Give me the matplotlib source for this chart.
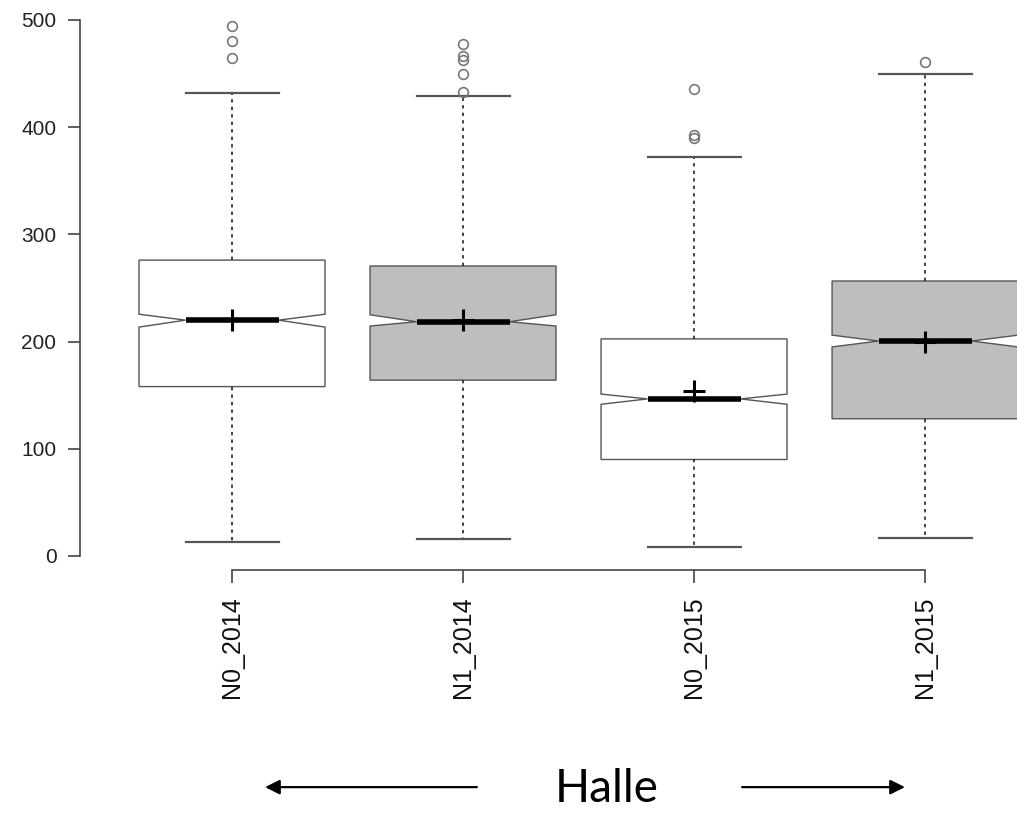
import matplotlib.pyplot as plt

# valeurs
groupes = ['N0_2014', 'N1_2014', 'N0_2015', 'N1_2015']
q1 = [158, 164, 90, 128]
mediane = [220, 218.5, 146.5, 200.5]
q3 = [276, 270.5, 202.5, 256.5]
moustache_bas = [13, 16, 8, 17]
moustache_haut = [432, 429, 372, 450]
encoche_bas = [213.5, 214.5, 141.5, 195]
encoche_haut = [225.5, 225, 151, 206]
moyennes = [220, 220, 154, 200]
aberrants = [[494, 480, 465], [478, 466, 463, 450, 433], [436, 393, 390], [461]]
remplissage = ['white', '#BEBEBE', 'white', '#BEBEBE']

fig = plt.figure(figsize=(10.17, 8.14), dpi=100)
ax = fig.add_axes([80 / 1017, 0.2999, 937 / 1017, 0.6887])

stats = []
for i, g in enumerate(groupes):
    stats.append({'label': g, 'q1': q1[i], 'med': mediane[i], 'q3': q3[i],
                  'whislo': moustache_bas[i], 'whishi': moustache_haut[i],
                  'cilo': encoche_bas[i], 'cihi': encoche_haut[i],
                  'fliers': aberrants[i]})

positions = list(range(1, len(groupes) + 1))
bp = ax.bxp(stats, positions=positions, widths=0.805, shownotches=True,
            patch_artist=True,
            boxprops=dict(edgecolor='#555555', linewidth=1.0),
            medianprops=dict(color='black', linewidth=4.0, solid_capstyle='butt'),
            whiskerprops=dict(color='#222222', linewidth=1.2, linestyle=(0, (2, 2.5))),
            capprops=dict(color='#555555', linewidth=1.6),
            flierprops=dict(marker='o', markerfacecolor='none', markeredgecolor='#777777',
                            markersize=7, markeredgewidth=1.2))
for patch, c in zip(bp['boxes'], remplissage):
    patch.set_facecolor(c)

# moyennes
ax.plot(positions, moyennes, linestyle='none', marker='+', color='black',
        markersize=16, markeredgewidth=2.2, zorder=5)

ax.set_xlim(0.342, 4.398)
ax.set_ylim(-13, 510)

for s in ['top', 'right']:
    ax.spines[s].set_visible(False)
ax.spines['left'].set_bounds(0, 500)
ax.spines['bottom'].set_bounds(1, 4)
for s in ['left', 'bottom']:
    ax.spines[s].set_color('#444444')
    ax.spines[s].set_linewidth(1.2)

ax.set_yticks([0, 100, 200, 300, 400, 500])
ax.set_xticks(positions)
ax.set_xticklabels(groupes, rotation=90, fontfamily='Liberation Sans', fontsize=18)
for lab in ax.get_yticklabels():
    lab.set_fontfamily('Liberation Sans')
ax.tick_params(axis='y', labelsize=15, length=9, width=1.2, color='#444444',
               pad=8, labelcolor='#222222')
ax.tick_params(axis='x', length=9, width=1.2, color='#444444', pad=10,
               labelcolor='#111111')

# fleches et texte "Halle"
ax.annotate('', xy=(1.143, 0.033), xytext=(2.06, 0.033),
            xycoords=('data', 'figure fraction'),
            arrowprops=dict(arrowstyle='-|>', lw=1.6, color='black', mutation_scale=22,
                            shrinkA=0, shrinkB=0))
ax.annotate('', xy=(3.913, 0.033), xytext=(3.208, 0.033),
            xycoords=('data', 'figure fraction'),
            arrowprops=dict(arrowstyle='-|>', lw=1.6, color='black', mutation_scale=22,
                            shrinkA=0, shrinkB=0))
ax.annotate('Halle', xy=(2.623, 0.031), xycoords=('data', 'figure fraction'),
            ha='center', va='center', fontsize=33, fontfamily='Lato',
            annotation_clip=False)

fig.savefig('out.png', dpi=100)
